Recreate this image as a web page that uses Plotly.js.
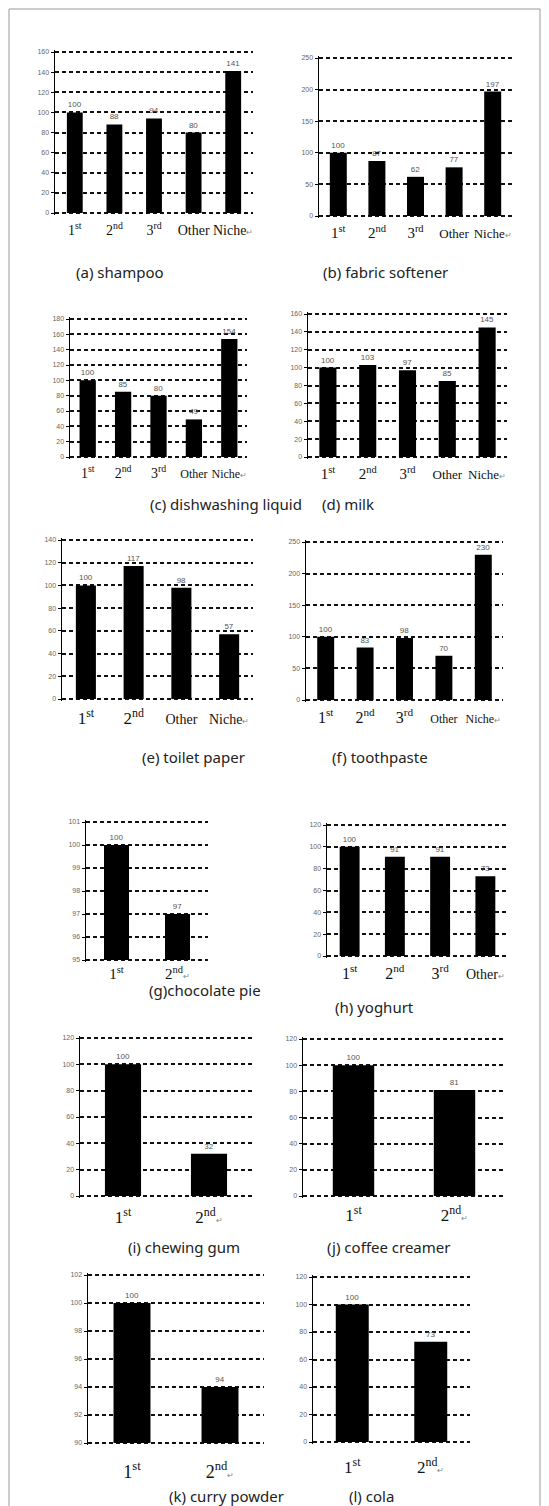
<!DOCTYPE html>
<html>
<head>
<meta charset="utf-8">
<script src="https://cdn.plot.ly/plotly-3.0.1.min.js"></script>
<style>
  html, body { margin: 0; padding: 0; background: #ffffff; }
  #chart { width: 549px; height: 1506px; }
</style>
</head>
<body>
<div id="chart"></div>
<script>
// ---------- data ----------
const cats5 = ['1st', '2nd', '3rd', 'Other', 'Niche'];
const shampooVals = [100, 88, 94, 80, 141];
const softenerVals = [100, 87, 62, 77, 197];
const dishVals = [100, 85, 80, 49, 154];
const milkVals = [100, 103, 97, 85, 145];
const toiletCats = ['1st', '2nd', 'Other', 'Niche'];
const toiletVals = [100, 117, 98, 57];
const toothVals = [100, 83, 98, 70, 230];
const cats2 = ['1st', '2nd'];
const chocoVals = [100, 97];
const yogCats = ['1st', '2nd', '3rd', 'Other'];
const yogVals = [100, 91, 91, 73];
const gumVals = [100, 32];
const creamerVals = [100, 81];
const curryVals = [100, 94];
const colaVals = [100, 73];
const captions = ['(a) shampoo', '(b) fabric softener', '(c) dishwashing liquid', '(d) milk',
  '(e) toilet paper', '(f) toothpaste', '(g)chocolate pie', '(h) yoghurt',
  '(i) chewing gum', '(j) coffee creamer', '(k) curry powder', '(l) cola'];

// ---------- panel geometry (pixels) ----------
const W = 549, H = 1506, PAD = 2;
const panels = [
  {cats: cats5, vals: shampooVals, L: 55, R: 253, T: 52, B: 213, lo: 0, hi: 160, dt: 20, bw: 0.40, big: 14, small: 14, so: 5, cap: [120, 272, 'center']},
  {cats: cats5, vals: softenerVals, L: 319, R: 512, T: 58, B: 216, lo: 0, hi: 250, dt: 50, bw: 0.44, big: 15, small: 13, so: 4, cap: [385, 272, 'center']},
  {cats: cats5, vals: dishVals, L: 70, R: 247, T: 319, B: 457, lo: 0, hi: 180, dt: 20, bw: 0.46, big: 14, small: 12, so: 4, cap: [148, 504, 'left']},
  {cats: cats5, vals: milkVals, L: 308, R: 507, T: 314, B: 457, lo: 0, hi: 160, dt: 20, bw: 0.43, big: 15, small: 13, so: 4, cap: [320, 504, 'left']},
  {cats: toiletCats, vals: toiletVals, L: 62, R: 253, T: 540, B: 699, lo: 0, hi: 140, dt: 20, bw: 0.42, big: 17, small: 14, so: 5, cap: [140, 757, 'left']},
  {cats: cats5, vals: toothVals, L: 306, R: 503, T: 542, B: 700, lo: 0, hi: 250, dt: 50, bw: 0.43, big: 16, small: 12, so: 4, cap: [330, 757, 'left']},
  {cats: cats2, vals: chocoVals, L: 86, R: 208, T: 822, B: 960, lo: 95, hi: 101, dt: 1, bw: 0.41, big: 15, small: 15, so: 1, cap: [147, 990, 'left']},
  {cats: yogCats, vals: yogVals, L: 327, R: 508, T: 825, B: 956, lo: 0, hi: 120, dt: 20, bw: 0.44, big: 16, small: 14, so: 4, cap: [333, 1007, 'left']},
  {cats: cats2, vals: gumVals, L: 80, R: 252, T: 1038, B: 1196, lo: 0, hi: 120, dt: 20, bw: 0.42, big: 17, small: 17, so: 7, cap: [126, 1247, 'left']},
  {cats: cats2, vals: creamerVals, L: 303, R: 505, T: 1039, B: 1196, lo: 0, hi: 120, dt: 20, bw: 0.41, big: 17, small: 17, so: 5, cap: [325, 1247, 'left']},
  {cats: cats2, vals: curryVals, L: 88, R: 264, T: 1275, B: 1443, lo: 90, hi: 102, dt: 2, bw: 0.42, big: 18, small: 18, so: 14, cap: [167, 1496, 'left']},
  {cats: cats2, vals: colaVals, L: 313, R: 470, T: 1277, B: 1442, lo: 0, hi: 120, dt: 20, bw: 0.42, big: 17, small: 17, so: 11, cap: [347, 1496, 'left']}
];

function tickLabel(c, p, isLast) {
  const m = c.match(/^(\d)(st|nd|rd)$/);
  let s = m ? m[1] + '<sup>' + m[2] + '</sup>'
            : '<span style="font-size:' + p.small + 'px">' + c + '</span>';
  if (isLast) s += '<span style="font-size:8px;color:#888">↵</span>';
  return s;
}

const traces = [];
const layout = {
  width: W, height: H,
  margin: {l: 0, r: 0, t: 0, b: 0},
  paper_bgcolor: '#ffffff', plot_bgcolor: 'rgba(0,0,0,0)',
  showlegend: false,
  annotations: [],
  shapes: [{
    type: 'rect', xref: 'paper', yref: 'paper',
    x0: 9 / W, x1: 540 / W, y0: -0.01, y1: 1 - 9 / H,
    line: {color: '#9a9a9a', width: 1}
  }]
};

panels.forEach((p, i) => {
  const n = i + 1;
  const sfx = n === 1 ? '' : String(n);
  const u = (p.hi - p.lo) / (p.B - p.T);
  traces.push({
    type: 'bar',
    x: p.cats,
    y: p.vals.map(v => v - p.lo),
    base: p.lo,
    width: p.bw,
    xaxis: 'x' + sfx,
    yaxis: 'y' + sfx,
    marker: {color: '#000000', line: {width: 0}},
    text: p.vals.map(String),
    textposition: 'outside',
    textfont: {family: 'Liberation Sans, Arial, sans-serif', size: 8, color: '#555555'},
    cliponaxis: false,
    hoverinfo: 'skip'
  });
  layout['xaxis' + sfx] = {
    domain: [p.L / W, p.R / W],
    anchor: 'y' + sfx,
    type: 'category',
    tickmode: 'array',
    tickvals: p.cats,
    ticktext: p.cats.map((c, k) => tickLabel(c, p, k === p.cats.length - 1)),
    tickfont: {family: 'Liberation Serif, Times New Roman, serif', size: p.big, color: '#111111'},
    ticks: '', showline: false, showgrid: false, zeroline: false,
    ticklabelstandoff: p.so,
    fixedrange: true
  };
  layout['yaxis' + sfx] = {
    domain: [(H - (p.B + PAD)) / H, (H - (p.T - PAD)) / H],
    anchor: 'x' + sfx,
    range: [p.lo - PAD * u, p.hi + PAD * u],
    tickmode: 'linear', tick0: p.lo, dtick: p.dt,
    showline: true, linecolor: '#000000', linewidth: 1.5,
    ticks: 'outside', ticklen: 3, tickwidth: 1, tickcolor: '#000000',
    tickfont: {family: 'Liberation Sans, Arial, sans-serif', size: 7, color: '#666666'},
    showgrid: true, gridcolor: '#111111', gridwidth: 2, griddash: '4px,3px',
    zeroline: false,
    fixedrange: true
  };
  layout.annotations.push({
    xref: 'paper', yref: 'paper',
    x: p.cap[0] / W, y: 1 - p.cap[1] / H,
    xanchor: p.cap[2], yanchor: 'middle',
    text: captions[i], showarrow: false,
    font: {family: 'Noto Sans, Open Sans, sans-serif', size: 15, color: '#222222'}
  });
});

Plotly.newPlot('chart', traces, layout, {staticPlot: true, displayModeBar: false});
</script>
</body>
</html>
